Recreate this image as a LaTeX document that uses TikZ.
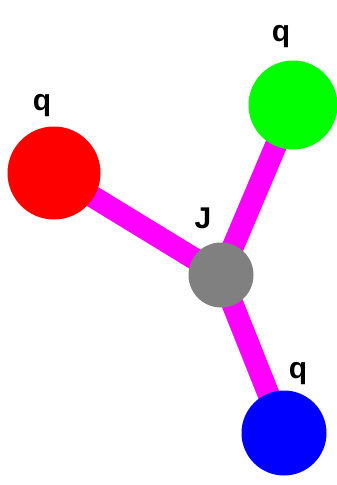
\documentclass[tikz,border=0pt]{standalone}
\usepackage{fontspec}
\setmainfont{Liberation Sans}
\usetikzlibrary{backgrounds}
\begin{document}
\begin{tikzpicture}[x=1pt,y=-1pt,
  ball/.style={circle,inner sep=0pt,minimum size=#1},
  bond/.style={line width=22pt,color={rgb,255:red,255;green,0;blue,255}},
  lbl/.style={font=\fontsize{30}{30}\selectfont\bfseries,inner sep=0pt}]
\useasboundingbox (0,0) rectangle (337,485);
\node[ball=93pt,fill={rgb,255:red,255;green,0;blue,0}] (R) at (54,173) {};
\node[ball=89pt,fill={rgb,255:red,0;green,255;blue,0}] (G) at (293,105) {};
\node[ball=85pt,fill={rgb,255:red,0;green,0;blue,255}] (B) at (284,433) {};
\node[ball=65pt,fill={rgb,255:red,128;green,128;blue,128}] (J) at (221,275) {};
\begin{scope}[on background layer]
\draw[bond] (J.center) -- (R.center);
\draw[bond] (J.center) -- (G.center);
\draw[bond] (J.center) -- (B.center);
\end{scope}
\node[lbl] (lR) at (42,106) {q};
\node[lbl] (lG) at (281,37) {q};
\node[lbl] (lB) at (298,374) {q};
\node[lbl] (lJ) at (203,218) {J};
\end{tikzpicture}
\end{document}
